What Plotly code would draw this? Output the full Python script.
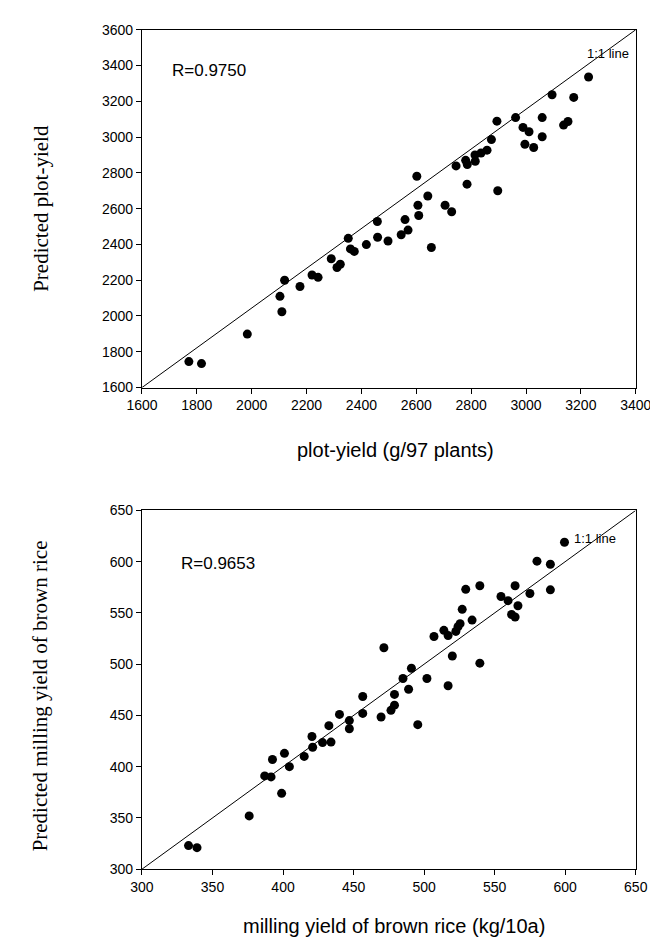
import plotly.graph_objects as go

# ---------------- data ----------------
# Top panel: plot-yield (g/97 plants) vs predicted plot-yield
plot_yield = [1771, 1817, 1984, 2103, 2110, 2120, 2176, 2220, 2242, 2290, 2311, 2323,
              2352, 2360, 2374, 2418, 2458, 2459, 2497, 2545, 2559, 2570, 2602, 2606,
              2609, 2642, 2655, 2705, 2729, 2745, 2780, 2786, 2785, 2814, 2815, 2836,
              2858, 2874, 2894, 2897, 2962, 2989, 3011, 2996, 3028, 3059, 3059, 3095,
              3137, 3153, 3174, 3228]
pred_plot_yield = [1745, 1734, 1899, 2110, 2024, 2200, 2165, 2229, 2216, 2320, 2271, 2289,
                   2434, 2375, 2361, 2399, 2528, 2440, 2419, 2454, 2539, 2480, 2781, 2619,
                   2562, 2671, 2383, 2619, 2583, 2839, 2870, 2847, 2737, 2900, 2865, 2911,
                   2927, 2986, 3089, 2700, 3109, 3054, 3030, 2960, 2942, 3109, 3002, 3237,
                   3067, 3087, 3222, 3336]

# Bottom panel: milling yield of brown rice (kg/10a) vs predicted
milling = [333, 339, 376, 387, 391.5, 392.5, 399, 401, 404.5, 415, 420.5, 421, 428,
           432.5, 434, 440, 447, 447, 456.5, 456.5, 469.5, 471.5, 476.5, 479, 479, 485,
           489, 491, 495.5, 502, 507, 514, 517, 517, 520, 522.5, 524, 525.5, 527, 529.5,
           534, 539.5, 539.5, 554.5, 559.5, 562, 564.5, 564.5, 566.5, 575, 580, 589.5,
           589.5, 599.5]
pred_milling = [323, 321, 352, 391, 390, 407, 374, 413, 400, 410, 429.5, 419, 423.5,
                440, 424, 451, 445, 437, 468.5, 452, 448.5, 516, 455, 460, 470.5, 486,
                475.5, 496, 441, 486, 527, 533, 528, 479, 508, 532, 536.5, 539.5, 553.5,
                573, 543, 576.5, 501, 566, 562, 548.5, 576.5, 546, 557, 569, 600.5, 597.5,
                572.5, 619]

top_xrange = [1600, 3400]
top_yrange = [1600, 3600]
top_ticks_x = [1600, 1800, 2000, 2200, 2400, 2600, 2800, 3000, 3200, 3400]
top_ticks_y = [1600, 1800, 2000, 2200, 2400, 2600, 2800, 3000, 3200, 3400, 3600]

bot_range = [300, 650]
bot_ticks = [300, 350, 400, 450, 500, 550, 600, 650]

r_top = "R=0.9750"
r_bot = "R=0.9653"

# ---------------- figure ----------------
W, H = 658, 938
SANS = "Liberation Sans, Arial, sans-serif"
SERIF = "Liberation Serif, Times New Roman, serif"

def px_x(p):
    return p / W

def px_y(p):
    return 1 - p / H

fig = go.Figure()

# 1:1 lines (panel diagonals)
fig.add_trace(go.Scatter(x=top_xrange, y=top_yrange, mode="lines",
                         line=dict(color="black", width=1), xaxis="x", yaxis="y",
                         showlegend=False, hoverinfo="skip"))
fig.add_trace(go.Scatter(x=plot_yield, y=pred_plot_yield, mode="markers",
                         marker=dict(color="black", size=9), xaxis="x", yaxis="y",
                         showlegend=False))

fig.add_trace(go.Scatter(x=bot_range, y=bot_range, mode="lines",
                         line=dict(color="black", width=1), xaxis="x2", yaxis="y2",
                         showlegend=False, hoverinfo="skip"))
fig.add_trace(go.Scatter(x=milling, y=pred_milling, mode="markers",
                         marker=dict(color="black", size=9), xaxis="x2", yaxis="y2",
                         showlegend=False))

axis_common = dict(showgrid=False, zeroline=False, showline=True, linecolor="black",
                   linewidth=1, mirror=True, ticks="outside", ticklen=5, tickwidth=1,
                   tickcolor="black", tickfont=dict(family=SANS, size=14, color="black"))

xdom = [px_x(124), px_x(643)]
fig.update_layout(
    width=W, height=H,
    margin=dict(l=0, r=0, t=0, b=0),
    paper_bgcolor="white", plot_bgcolor="white",
    xaxis=dict(domain=xdom, range=top_xrange, tickvals=top_ticks_x, anchor="y",
               **axis_common),
    yaxis=dict(domain=[px_y(378), px_y(14)], range=top_yrange, tickvals=top_ticks_y,
               anchor="x", **axis_common),
    xaxis2=dict(domain=xdom, range=bot_range, tickvals=bot_ticks, anchor="y2",
                **axis_common),
    yaxis2=dict(domain=[px_y(868), px_y(503)], range=bot_range, tickvals=bot_ticks,
                anchor="x2", **axis_common),
)

annotations = [
    # axis titles
    dict(text="plot-yield (g/97 plants)", x=px_x(390), y=px_y(442), xref="paper",
         yref="paper", xanchor="center", yanchor="middle", showarrow=False,
         font=dict(family=SANS, size=20, color="black")),
    dict(text="milling yield of brown rice (kg/10a)", x=px_x(389), y=px_y(926),
         xref="paper", yref="paper", xanchor="center", yanchor="middle",
         showarrow=False, font=dict(family=SANS, size=20, color="black")),
    dict(text="Predicted plot-yield", x=px_x(17), y=px_y(196), xref="paper",
         yref="paper", xanchor="center", yanchor="middle", textangle=-90,
         showarrow=False, font=dict(family=SERIF, size=21, color="black")),
    dict(text="Predicted milling yield of brown rice", x=px_x(17), y=px_y(692),
         xref="paper", yref="paper", xanchor="center", yanchor="middle", textangle=-90,
         showarrow=False, font=dict(family=SERIF, size=21, color="black")),
    # R values
    dict(text=r_top, x=1704, y=3375, xref="x", yref="y", xanchor="left",
         yanchor="middle", showarrow=False, font=dict(family=SANS, size=17, color="black")),
    dict(text=r_bot, x=326, y=598, xref="x2", yref="y2", xanchor="left",
         yanchor="middle", showarrow=False, font=dict(family=SANS, size=17, color="black")),
    # 1:1 line labels
    dict(text="1:1 line", x=3382, y=3468, xref="x", yref="y", xanchor="right",
         yanchor="middle", showarrow=False, font=dict(family=SANS, size=13, color="black")),
    dict(text="1:1 line", x=637.5, y=623, xref="x2", yref="y2", xanchor="right",
         yanchor="middle", showarrow=False, font=dict(family=SANS, size=13, color="black")),
]
fig.update_layout(annotations=annotations)

fig.write_html("out.html")
